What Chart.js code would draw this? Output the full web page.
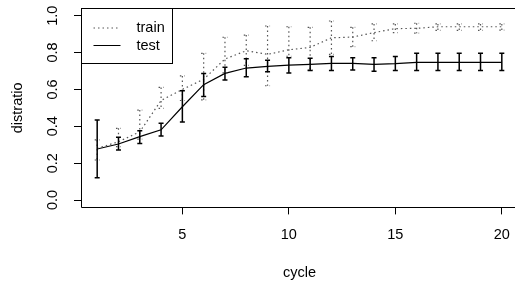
<!DOCTYPE html>
<html>
<head>
<meta charset="utf-8">
<script src="https://cdn.jsdelivr.net/npm/chart.js"></script>
<style>
    html, body { margin: 0; padding: 0; background: #fff; overflow: hidden; }
    #wrap { width: 515px; height: 283px; overflow: hidden; }
</style>
</head>
<body>
<div id="wrap"><canvas id="chart" width="540" height="283"></canvas></div>
<script>
    const cycles = [1, 2, 3, 4, 5, 6, 7, 8, 9, 10, 11, 12, 13, 14, 15, 16, 17, 18, 19, 20];
    const xTicks = [5, 10, 15, 20];
    const yTicks = [0, 0.2, 0.4, 0.6, 0.8, 1.0];

    const trainMean = [0.28, 0.316, 0.37, 0.54, 0.60, 0.655, 0.765, 0.81, 0.79, 0.815, 0.828, 0.88, 0.884, 0.908, 0.93, 0.931, 0.94, 0.94, 0.94, 0.94];
    const trainLo = [0.217, 0.29, 0.33, 0.497, 0.54, 0.543, 0.69, 0.73, 0.62, 0.78, 0.705, 0.79, 0.832, 0.864, 0.908, 0.905, 0.92, 0.92, 0.92, 0.922];
    const trainHi = [0.326, 0.389, 0.488, 0.611, 0.673, 0.796, 0.883, 0.895, 0.944, 0.94, 0.937, 0.971, 0.937, 0.955, 0.955, 0.959, 0.955, 0.955, 0.955, 0.955];

    const testMean = [0.277, 0.304, 0.344, 0.381, 0.506, 0.626, 0.687, 0.716, 0.725, 0.732, 0.736, 0.741, 0.741, 0.736, 0.74, 0.747, 0.747, 0.747, 0.747, 0.747];
    const testLo = [0.121, 0.271, 0.307, 0.347, 0.423, 0.561, 0.651, 0.669, 0.696, 0.689, 0.702, 0.702, 0.705, 0.698, 0.702, 0.702, 0.702, 0.702, 0.702, 0.702];
    const testHi = [0.434, 0.34, 0.376, 0.416, 0.593, 0.687, 0.72, 0.767, 0.758, 0.772, 0.769, 0.778, 0.772, 0.772, 0.778, 0.796, 0.796, 0.796, 0.796, 0.796];

    const FONT = 'Liberation Sans, Arial, Helvetica, sans-serif';
    const dotted = [1.5, 3];

    const toPoints = (ys) => cycles.map((c, i) => ({x: c, y: ys[i]}));

    // R style: error bars, box round the plot, legend in the corner
    const rStyle = {
        id: 'rStyle',
        afterDatasetsDraw(chart) {
            const {ctx, chartArea, scales: {x, y}} = chart;
            chart.data.datasets.forEach((ds) => {
                ctx.save();
                ctx.strokeStyle = ds.borderColor;
                ctx.lineWidth = ds.barWidth;
                ctx.setLineDash(ds.borderDash || []);
                ds.data.forEach((p, i) => {
                    const px = x.getPixelForValue(p.x);
                    const top = y.getPixelForValue(ds.hi[i]);
                    const bot = y.getPixelForValue(ds.lo[i]);
                    ctx.beginPath();
                    ctx.moveTo(px, top); ctx.lineTo(px, bot);
                    ctx.moveTo(px - 2.5, top); ctx.lineTo(px + 2.5, top);
                    ctx.moveTo(px - 2.5, bot); ctx.lineTo(px + 2.5, bot);
                    ctx.stroke();
                });
                ctx.restore();
            });

            // box: the right side sits past the window edge, like the original
            ctx.save();
            ctx.strokeStyle = '#000';
            ctx.lineWidth = 1;
            const l = Math.round(chartArea.left) + 0.5, t = Math.round(chartArea.top) + 0.5;
            const b = Math.round(chartArea.bottom) + 0.5, r = chartArea.right;
            ctx.beginPath();
            ctx.moveTo(r, t); ctx.lineTo(l, t); ctx.lineTo(l, b); ctx.lineTo(r, b);
            ctx.stroke();

            // legend
            ctx.fillStyle = '#fff';
            ctx.fillRect(l, t, 91, 55);
            ctx.strokeRect(l, t, 91, 55);
            ctx.font = '14.5px ' + FONT;
            ctx.textBaseline = 'middle';
            ctx.textAlign = 'left';
            chart.data.datasets.forEach((ds, i) => {
                const yy = t + 19.5 + i * 17.5;
                ctx.strokeStyle = ds.borderColor;
                ctx.setLineDash(ds.borderDash || []);
                ctx.beginPath();
                ctx.moveTo(l + 12, yy); ctx.lineTo(l + 39, yy);
                ctx.stroke();
                ctx.setLineDash([]);
                ctx.fillStyle = '#000';
                ctx.fillText(ds.label, l + 55, yy);
            });
            ctx.restore();
        }
    };

    const noPad = (s) => { s.paddingTop = 0; s.paddingBottom = 0; s.paddingLeft = 0; s.paddingRight = 0; };

    new Chart(document.getElementById('chart'), {
        type: 'line',
        data: {
            datasets: [
                {
                    label: 'train',
                    data: toPoints(trainMean),
                    lo: trainLo,
                    hi: trainHi,
                    borderColor: '#555',
                    borderWidth: 1.2,
                    borderDash: dotted,
                    barWidth: 1.2,
                    pointRadius: 0,
                    tension: 0
                },
                {
                    label: 'test',
                    data: toPoints(testMean),
                    lo: testLo,
                    hi: testHi,
                    borderColor: '#000',
                    borderWidth: 1.2,
                    barWidth: 1.5,
                    pointRadius: 0,
                    tension: 0
                }
            ]
        },
        options: {
            responsive: false,
            animation: false,
            layout: { padding: { top: 8.3, right: 22, left: 0, bottom: 0 } },
            plugins: { legend: { display: false }, tooltip: { enabled: false } },
            scales: {
                x: {
                    type: 'linear',
                    min: 0.24,
                    max: 20.76,
                    afterBuildTicks: (s) => { s.ticks = xTicks.map((v) => ({value: v})); },
                    afterFit: (s) => { s.height = 75.6; noPad(s); },
                    grid: { drawOnChartArea: false, drawTicks: true, tickLength: 7, tickColor: '#000' },
                    border: { display: false },
                    ticks: { color: '#000', padding: 12, maxRotation: 0, font: { family: FONT, size: 14.5 } },
                    title: { display: true, text: 'cycle', color: '#000', padding: { top: 0, bottom: 1 }, font: { family: FONT, size: 14.5 } }
                },
                y: {
                    min: -0.04,
                    max: 1.04,
                    afterBuildTicks: (s) => { s.ticks = yTicks.map((v) => ({value: v})); },
                    afterFit: (s) => { s.width = 81; noPad(s); },
                    grid: { drawOnChartArea: false, drawTicks: true, tickLength: 7, tickColor: '#000' },
                    border: { display: false },
                    ticks: {
                        color: '#000', padding: 11, minRotation: 90, maxRotation: 90, crossAlign: 'center',
                        font: { family: FONT, size: 14.5 },
                        callback: (v) => v.toFixed(1)
                    },
                    title: { display: true, text: 'distratio', color: '#000', padding: { top: 9, bottom: 0 }, font: { family: FONT, size: 14.5 } }
                }
            }
        },
        plugins: [rStyle]
    });
</script>
</body>
</html>
